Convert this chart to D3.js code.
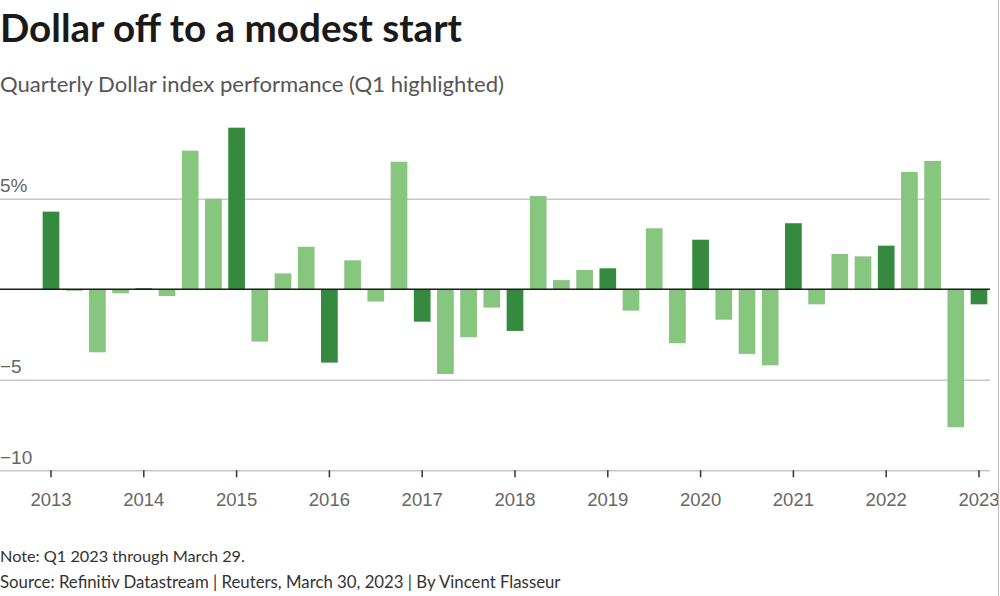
<!DOCTYPE html>
<html>
<head>
<meta charset="utf-8">
<script src="https://cdn.jsdelivr.net/npm/d3@7"></script>
<style>
  html, body { margin: 0; padding: 0; background: #fff; }
  svg { display: block; font-family: "Source Sans Pro", Lato, "Noto Sans", sans-serif; }
</style>
</head>
<body>
<script>
const quarters = [
  "2013 Q1","2013 Q2","2013 Q3","2013 Q4",
  "2014 Q1","2014 Q2","2014 Q3","2014 Q4",
  "2015 Q1","2015 Q2","2015 Q3","2015 Q4",
  "2016 Q1","2016 Q2","2016 Q3","2016 Q4",
  "2017 Q1","2017 Q2","2017 Q3","2017 Q4",
  "2018 Q1","2018 Q2","2018 Q3","2018 Q4",
  "2019 Q1","2019 Q2","2019 Q3","2019 Q4",
  "2020 Q1","2020 Q2","2020 Q3","2020 Q4",
  "2021 Q1","2021 Q2","2021 Q3","2021 Q4",
  "2022 Q1","2022 Q2","2022 Q3","2022 Q4",
  "2023 Q1"
];
const performance = [
  4.29, -0.08, -3.48, -0.22,
  0.06, -0.37, 7.66, 5.00,
  8.93, -2.89, 0.88, 2.35,
  -4.05, 1.60, -0.68, 7.05,
  -1.79, -4.68, -2.65, -1.01,
  -2.30, 5.15, 0.51, 1.07,
  1.16, -1.18, 3.37, -2.98,
  2.74, -1.68, -3.57, -4.20,
  3.65, -0.83, 1.95, 1.82,
  2.41, 6.48, 7.09, -7.62,
  -0.83
];
const yTicks = [5, -5, -10];
const yTickLabels = ["5%", "\u22125", "\u221210"];
const yearLabels = ["2013","2014","2015","2016","2017","2018","2019","2020","2021","2022","2023"];

const title = "Dollar off to a modest start";
const subtitle = "Quarterly Dollar index performance (Q1 highlighted)";
const note = "Note: Q1 2023 through March 29.";
const source = "Source: Refinitiv Datastream | Reuters, March 30, 2023 | By Vincent Flasseur";

const W = 1000, H = 596;
const svg = d3.select("body").append("svg").attr("width", W).attr("height", H);

function fitText(sel, target) {
  const node = sel.node();
  const len = node.getComputedTextLength();
  const fs = parseFloat(sel.attr("font-size"));
  sel.attr("font-size", (fs * target / len).toFixed(2));
}

// Titles
fitText(svg.append("text").attr("x", 0).attr("y", 42).attr("font-size", 36)
  .attr("font-weight", 700).attr("fill", "#1a1a1a").text(title), 462);
fitText(svg.append("text").attr("x", 0).attr("y", 92).attr("font-size", 22)
  .attr("fill", "#555").text(subtitle), 504);

// Scales
const step = 23.2;
const x = d3.scaleBand().domain(quarters)
  .range([51 - step / 2, 51 - step / 2 + step * quarters.length])
  .paddingInner(0.28).paddingOuter(0.14);
const y = d3.scaleLinear().domain([-10, 9.5]).range([470.3, 117.35]);

const gridRight = 990;

// Gridlines with labels
const yAxis = svg.append("g").attr("class", "y-axis")
  .call(d3.axisRight(y).tickValues(yTicks).tickSize(gridRight)
    .tickFormat(d => yTickLabels[yTicks.indexOf(d)]));
yAxis.select(".domain").remove();
yAxis.selectAll(".tick line").attr("stroke", "#c8c8c8").attr("stroke-width", 1.5);
yAxis.selectAll(".tick text").attr("x", 0).attr("dy", -7).attr("text-anchor", "start")
  .attr("font-size", 19).attr("fill", "#666").attr("font-family", null);

// Bars
const q1 = d => d.endsWith("Q1");
svg.append("g").selectAll("rect").data(quarters).join("rect")
  .attr("x", d => x(d))
  .attr("width", x.bandwidth())
  .attr("y", (d, i) => y(Math.max(0, performance[i])))
  .attr("height", (d, i) => Math.abs(y(performance[i]) - y(0)))
  .attr("fill", d => q1(d) ? "#358a40" : "#86c67f");

// Zero line
svg.append("line").attr("x1", 0).attr("x2", gridRight)
  .attr("y1", y(0)).attr("y2", y(0)).attr("stroke", "#1a1a1a").attr("stroke-width", 1.5);

// X axis
const xAxis = svg.append("g").attr("transform", `translate(0,${y(-10)})`)
  .call(d3.axisBottom(x).tickValues(quarters.filter(q1)).tickSize(7).tickPadding(16)
    .tickFormat((d, i) => yearLabels[i]));
xAxis.select(".domain").remove();
xAxis.selectAll(".tick line").attr("stroke", "#333").attr("stroke-width", 1.5);
xAxis.selectAll(".tick text").attr("font-size", 18.5).attr("fill", "#666").attr("font-family", null);

// Right border
svg.append("line").attr("x1", 998.5).attr("x2", 998.5).attr("y1", 0).attr("y2", H)
  .attr("stroke", "#bbb").attr("stroke-width", 1);

// Footer
fitText(svg.append("text").attr("x", 0).attr("y", 562).attr("font-size", 16)
  .attr("fill", "#333").text(note), 245);
fitText(svg.append("text").attr("x", 0).attr("y", 588).attr("font-size", 16)
  .attr("fill", "#333").text(source), 561);
</script>
</body>
</html>
